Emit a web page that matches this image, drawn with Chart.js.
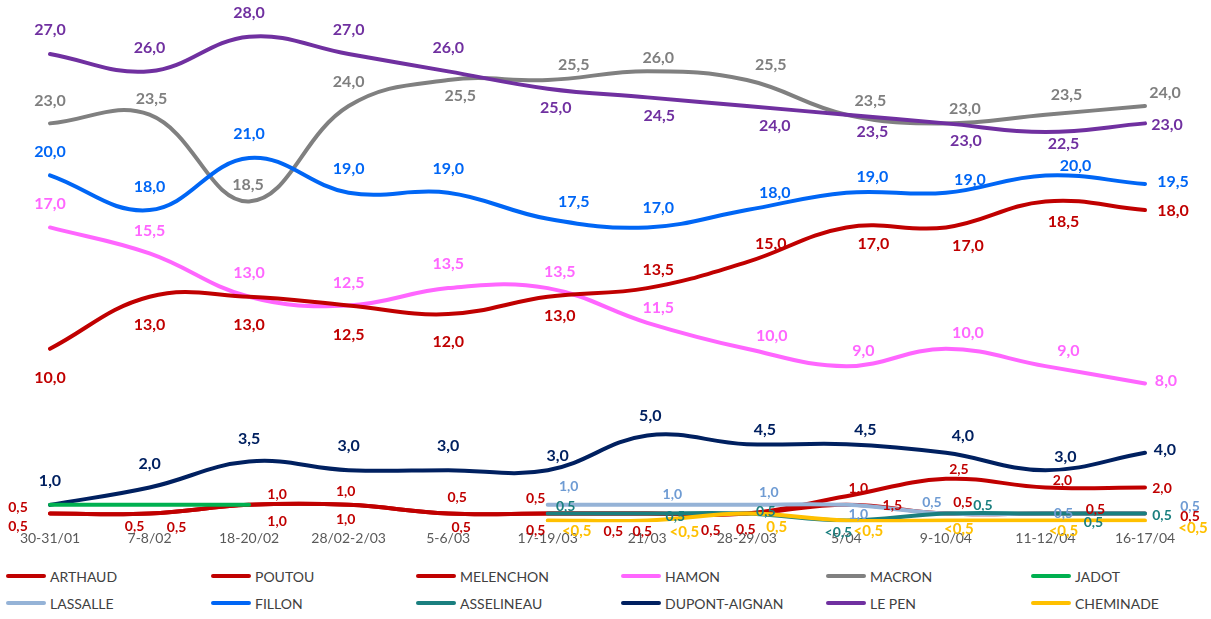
<!DOCTYPE html>
<html>
<head>
<meta charset="utf-8">
<script src="https://cdn.jsdelivr.net/npm/chart.js@4.4.0/dist/chart.umd.min.js"></script>
<style>
  body { margin: 0; background: #fff; font-family: Lato, sans-serif; }
  #wrap { position: relative; width: 1211px; height: 619px; }
  #chartBox { position: absolute; left: 0; top: 0; width: 1211px; height: 560px; }
  #legend { position: absolute; left: 6px; top: 567px; display: grid; grid-template-columns: repeat(6, 205px); row-gap: 9px; }
  .item { display: flex; align-items: center; height: 18px; font-size: 14px; color: #404040; }
  .sw { width: 40px; height: 4px; border-radius: 2px; margin-right: 4px; }
</style>
</head>
<body>
<div id="wrap">
  <div id="chartBox"><canvas id="chart"></canvas></div>
  <div id="legend"></div>
</div>
<script>
// dates des sondages
const labels = ['30-31/01', '7-8/02', '18-20/02', '28/02-2/03', '5-6/03', '17-19/03', '21/03', '28-29/03', '5/04', '9-10/04', '11-12/04', '16-17/04'];

// intentions de vote (%), "<0,5" noté 0.1
const arthaud = [0.5, 0.5, 1, 1, 0.5, 0.5, 0.5, 0.5, 1, 0.5, 0.5, 0.5];
const poutou = [0.5, 0.5, 1, 1, 0.5, 0.5, 0.5, 0.5, 1.5, 2.5, 2, 2];
const melenchon = [10, 13, 13, 12.5, 12, 13, 13.5, 15, 17, 17, 18.5, 18];
const hamon = [17, 15.5, 13, 12.5, 13.5, 13.5, 11.5, 10, 9, 10, 9, 8];
const macron = [23, 23.5, 18.5, 24, 25.5, 25.5, 26, 25.5, 23.5, 23, 23.5, 24];
const jadot = [1, 1, 1, null, null, null, null, null, null, null, null, null];
const lassalle = [null, null, null, null, null, 1, 1, 1, 1, 0.5, 0.5, 0.5];
const fillon = [20, 18, 21, 19, 19, 17.5, 17, 18, 19, 19, 20, 19.5];
const asselineau = [null, null, null, null, null, 0.5, 0.5, 0.5, 0.1, 0.5, 0.5, 0.5];
const dupontAignan = [1, 2, 3.5, 3, 3, 3, 5, 4.5, 4.5, 4, 3, 4];
const lePen = [27, 26, 28, 27, 26, 25, 24.5, 24, 23.5, 23, 22.5, 23];
const cheminade = [null, null, null, null, null, 0.1, 0.1, 0.5, 0.1, 0.1, 0.1, 0.1];

const series = [
    { name: 'ARTHAUD', data: arthaud, color: '#C00000', order: 5 },
    { name: 'POUTOU', data: poutou, color: '#C00000', order: 4 },
    { name: 'MELENCHON', data: melenchon, color: '#C00000', order: 8 },
    { name: 'HAMON', data: hamon, color: '#FF66FF', order: 9 },
    { name: 'MACRON', data: macron, color: '#808080', order: 11 },
    { name: 'JADOT', data: jadot, color: '#00B050', order: 0 },
    { name: 'LASSALLE', data: lassalle, color: '#95B3D7', order: 3 },
    { name: 'FILLON', data: fillon, color: '#0066F5', order: 10 },
    { name: 'ASSELINEAU', data: asselineau, color: '#1A7F7F', order: 2 },
    { name: 'DUPONT-AIGNAN', data: dupontAignan, color: '#002060', order: 6 },
    { name: 'LE PEN', data: lePen, color: '#7030A0', order: 7 },
    { name: 'CHEMINADE', data: cheminade, color: '#FFC000', order: 1 }
];

// placement des étiquettes (décalage par rapport au point)
const N = null;
const labelStyle = {
    'ARTHAUD': { size: 14, color: '#C00000', off: [[-32, -6], [-15, 13], [28, -10], [-3, -13], [9, -16], [-12, -15], [-34, 18], [-36, 17], [12, -16], [17, -11], [50, -4], [45, 3]] },
    'POUTOU': { size: 14, color: '#C00000', off: [[-32, 13], [27, 14], [28, 17], [-3, 15], [13, 14], [-12, 17], [-5, 18], [-1, 16], [46, 9], [13, -9], [17, -7], [17, 1]] },
    'MELENCHON': { size: 16, color: '#C00000', off: [[0, 29], [0, 28], [0, 28], [0, 29], [0, 28], [12, 19], [11, -18], [24, -18], [27, 16], [22, 18], [18, 20], [28, 1]] },
    'HAMON': { size: 16, color: '#FF66FF', off: [[0, -24], [0, -23], [0, -24], [0, -23], [0, -24], [12, -16], [11, -15], [25, -13], [17, -15], [22, -16], [23, -15], [21, -3]] },
    'MACRON': { size: 16, color: '#7F7F7F', off: [[0, -23], [2, -16], [-1, -17], [0, -24], [12, 16], [26, -15], [11, -14], [24, -15], [24, -14], [19, -15], [21, -20], [20, -13]] },
    'LASSALLE': { size: 14, color: '#6E9BD3', off: [N, N, N, N, N, [21, -18], [25, -10], [22, -12], [12, 10], [-14, -11], [18, 0], [45, -7]] },
    'FILLON': { size: 16, color: '#0066F5', off: [[0, -24], [0, -23], [0, -24], [0, -24], [0, -24], [26, -17], [11, -20], [28, -17], [26, -16], [24, -13], [30, -10], [28, -2]] },
    'ASSELINEAU': { size: 14, color: '#1A7F7F', off: [N, N, N, N, N, [18, -7], [28, 3], [19, -2], [-8, 12], [37, -8], [48, 9], [17, 2]] },
    'DUPONT-AIGNAN': { size: 16, color: '#002060', off: [[0, -24], [0, -24], [0, -23], [0, -24], [0, -24], [10, -14], [3, -20], [18, -14], [19, -14], [17, -17], [20, -13], [20, -3]] },
    'LE PEN': { size: 16, color: '#7030A0', off: [[0, -24], [0, -24], [0, -24], [0, -24], [0, -24], [8, 19], [12, 18], [28, 20], [26, 17], [20, 17], [18, 12], [22, 1]] },
    'CHEMINADE': { size: 15, color: '#FFC000', off: [N, N, N, N, N, [29, 11], [37, 12], [30, 14], [22, 11], [13, 9], [18, 11], [48, 8]] }
};

const fmt = (v) => v < 0.5 ? '<0,5' : v.toFixed(1).replace('.', ',');

const valueLabels = {
    id: 'valueLabels',
    afterDatasetsDraw(chart) {
        const ctx = chart.ctx;
        chart.data.datasets.forEach((ds, i) => {
            const st = labelStyle[ds.label];
            if (!st) return;
            const meta = chart.getDatasetMeta(i);
            ctx.save();
            ctx.font = `bold ${st.size}px Lato`;
            ctx.fillStyle = st.color;
            ctx.textAlign = 'center';
            ctx.textBaseline = 'middle';
            meta.data.forEach((pt, j) => {
                const v = ds.data[j];
                const off = st.off[j];
                if (v == null || !off) return;
                ctx.fillText(fmt(v), pt.x + off[0], pt.y + off[1]);
            });
            ctx.restore();
        });
    }
};

new Chart(document.getElementById('chart'), {
    type: 'line',
    data: {
        labels: labels,
        datasets: series.map((s) => ({
            label: s.name,
            data: s.data,
            borderColor: s.color,
            backgroundColor: s.color,
            borderWidth: 4,
            borderCapStyle: 'round',
            pointRadius: 0,
            tension: 0.4,
            spanGaps: false,
            order: s.order
        }))
    },
    options: {
        responsive: true,
        maintainAspectRatio: false,
        animation: false,
        layout: { padding: { left: 50, right: 66, top: 2, bottom: 5 } },
        plugins: { legend: { display: false }, tooltip: { enabled: false } },
        scales: {
            x: {
                grid: { display: false, drawTicks: false },
                border: { display: false },
                ticks: { color: '#595959', font: { family: 'Lato', size: 14 }, padding: 8, autoSkip: false, maxRotation: 0 }
            },
            y: { display: false, min: 0, max: 30 }
        }
    },
    plugins: [valueLabels]
});

// légende
const legend = document.getElementById('legend');
series.forEach((s) => {
    const item = document.createElement('div');
    item.className = 'item';
    item.innerHTML = `<span class="sw" style="background:${s.color}"></span>${s.name}`;
    legend.appendChild(item);
});
</script>
</body>
</html>
